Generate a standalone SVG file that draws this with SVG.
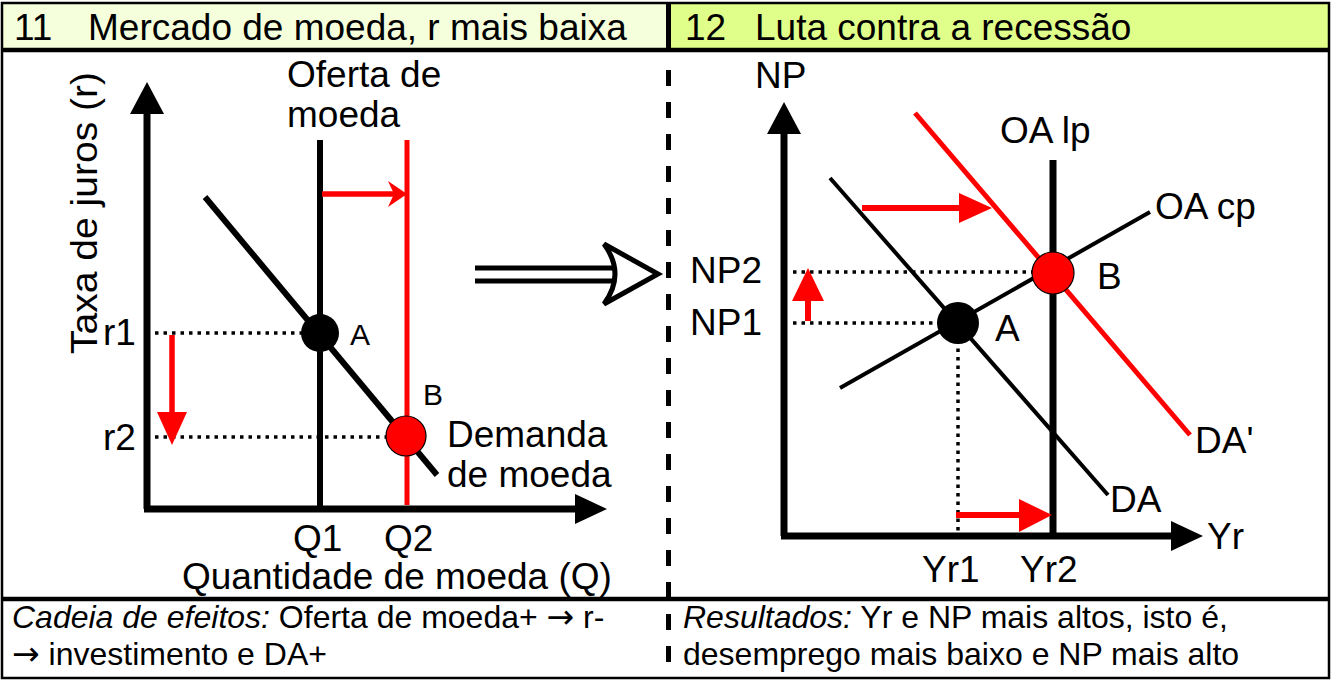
<svg xmlns="http://www.w3.org/2000/svg" width="1333" height="680" viewBox="0 0 1333 680">
<style>
text{font-family:"Liberation Sans",Arial,sans-serif;fill:#000}
.t{font-size:37px}
.f{font-size:32px}
.arr{font-family:"DejaVu Sans",sans-serif;font-size:33px}
.ax{stroke:#000;stroke-width:7;fill:none}
.blk{stroke:#000;stroke-width:6;fill:none}
.thin{stroke:#000;stroke-width:4;fill:none}
.red{stroke:#f00;stroke-width:5;fill:none}
.dot{stroke:#000;stroke-width:3.5;stroke-dasharray:3.5 5;fill:none}
.div{stroke:#000;stroke-width:5;stroke-dasharray:16 16;fill:none}
</style>
<rect x="0" y="0" width="1333" height="680" fill="#fff"/>
<g id="header">
<rect x="3" y="3" width="665" height="46" fill="#f6ffdc"/>
<rect x="668" y="3" width="661" height="46" fill="#e0ff8a"/>
<line x1="668.5" y1="3" x2="668.5" y2="52" stroke="#000" stroke-width="5"/>
<text class="t" x="14" y="40">11</text>
<text class="t" x="88" y="40">Mercado de moeda, r mais baixa</text>
<text class="t" x="685" y="40">12</text>
<text class="t" x="755" y="40">Luta contra a recessão</text>
</g>
<g id="frame">
<rect x="2" y="3" width="1327" height="675" fill="none" stroke="#000" stroke-width="2.5"/>
<line x1="2" y1="50" x2="1329" y2="50" stroke="#000" stroke-width="4.5"/>
<line x1="2" y1="599" x2="1329" y2="599" stroke="#000" stroke-width="4.5"/>
<line class="div" x1="668.5" y1="70" x2="668.5" y2="676"/>
</g>
<g id="connectors">
<line class="ax" x1="147" y1="509" x2="147" y2="110"/>
<polygon points="147,82 130,114 164,114" fill="#000"/>
<line class="ax" x1="144" y1="509" x2="578" y2="509"/>
<polygon points="607,509 575,494 575,524" fill="#000"/>
<line class="blk" x1="320" y1="140" x2="320" y2="509"/>
<line class="red" x1="407" y1="140" x2="407" y2="505"/>
<line stroke="#f00" stroke-width="5.5" x1="322" y1="194" x2="398" y2="194"/>
<polygon points="388,181 407,194 388,207 394,194" fill="#f00"/>
<line class="blk" x1="205" y1="197" x2="437" y2="475"/>
<line class="dot" x1="155" y1="333" x2="305" y2="333"/>
<line class="dot" x1="155" y1="437" x2="388" y2="437"/>
<line stroke="#f00" stroke-width="5.5" x1="172" y1="335" x2="172" y2="415"/>
<polygon points="172,445 157,412 187,412" fill="#f00"/>
<line stroke="#000" stroke-width="5" x1="475" y1="268" x2="622" y2="268"/>
<line stroke="#000" stroke-width="5" x1="475" y1="281" x2="622" y2="281"/>
<path d="M604,244 L658,274 L604,304 Q626,274 604,244 Z" fill="#fff" stroke="#000" stroke-width="5" stroke-linejoin="miter"/>
<line class="ax" x1="784" y1="536" x2="784" y2="130"/>
<polygon points="784,102 767,134 801,134" fill="#000"/>
<line class="ax" x1="781" y1="536" x2="1174" y2="536"/>
<polygon points="1203,536 1171,521 1171,551" fill="#000"/>
<line stroke="#000" stroke-width="7" x1="1053" y1="160" x2="1053" y2="536"/>
<line class="thin" x1="840" y1="388" x2="1150" y2="212"/>
<line class="thin" x1="830" y1="178" x2="1108" y2="495"/>
<line class="red" x1="915" y1="113" x2="1190" y2="435"/>
<line class="dot" x1="793" y1="272" x2="1035" y2="272"/>
<line class="dot" x1="793" y1="323" x2="940" y2="323"/>
<line class="dot" x1="958" y1="340" x2="958" y2="533"/>
<line stroke="#f00" stroke-width="6" x1="808" y1="321" x2="808" y2="298"/>
<polygon points="808,268 792,301 824,301" fill="#f00"/>
<line stroke="#f00" stroke-width="6" x1="862" y1="208" x2="962" y2="208"/>
<polygon points="992,208 959,193 959,223" fill="#f00"/>
<line stroke="#f00" stroke-width="6" x1="956" y1="515" x2="1022" y2="515"/>
<polygon points="1052,515 1019,499 1019,532" fill="#f00"/>
</g>
<g id="pointA1">
<circle cx="320" cy="333" r="19" fill="#000"/>
<text x="350" y="345" style="font-size:30px">A</text>
</g>
<g id="pointB1">
<circle cx="406" cy="436" r="20" fill="#f00" stroke="#000" stroke-width="1.2"/>
<text x="423" y="405" style="font-size:30px">B</text>
</g>
<g id="labels-left">
<text class="t" transform="translate(97,213) rotate(-90)" text-anchor="middle" textLength="282" lengthAdjust="spacingAndGlyphs">Taxa de juros (r)</text>
<text class="t" x="287" y="87">Oferta de</text>
<text class="t" x="287" y="127">moeda</text>
<text class="t" x="103" y="345">r1</text>
<text class="t" x="103" y="450">r2</text>
<text class="t" x="447" y="447">Demanda</text>
<text class="t" x="447" y="487">de moeda</text>
<text class="t" x="293" y="551">Q1</text>
<text class="t" x="384" y="551">Q2</text>
<text class="t" x="182" y="589">Quantidade de moeda (Q)</text>
</g>
<g id="pointA2">
<circle cx="958" cy="323" r="21" fill="#000"/>
<text class="t" x="995" y="341">A</text>
</g>
<g id="pointB2">
<circle cx="1053" cy="273" r="21" fill="#f00" stroke="#000" stroke-width="1.2"/>
<text class="t" x="1097" y="289">B</text>
</g>
<g id="labels-right">
<text class="t" x="755" y="88">NP</text>
<text class="t" x="1000" y="143">OA lp</text>
<text class="t" x="1155" y="219">OA cp</text>
<text class="t" x="690" y="283">NP2</text>
<text class="t" x="690" y="335">NP1</text>
<text class="t" x="1195" y="453">DA'</text>
<text class="t" x="1110" y="512">DA</text>
<text class="t" x="1207" y="549">Yr</text>
<text class="t" x="922" y="582">Yr1</text>
<text class="t" x="1020" y="582">Yr2</text>
</g>
<g id="footer">
<text class="f" x="12" y="628"><tspan font-style="italic">Cadeia de efeitos:</tspan> Oferta de moeda+ <tspan class="arr">→</tspan> r-</text>
<text class="f" x="12" y="665"><tspan class="arr">→</tspan> investimento e DA+</text>
<text class="f" x="683" y="628"><tspan font-style="italic">Resultados:</tspan> Yr e NP mais altos, isto é,</text>
<text class="f" x="683" y="665">desemprego mais baixo e NP mais alto</text>
</g>
</svg>
